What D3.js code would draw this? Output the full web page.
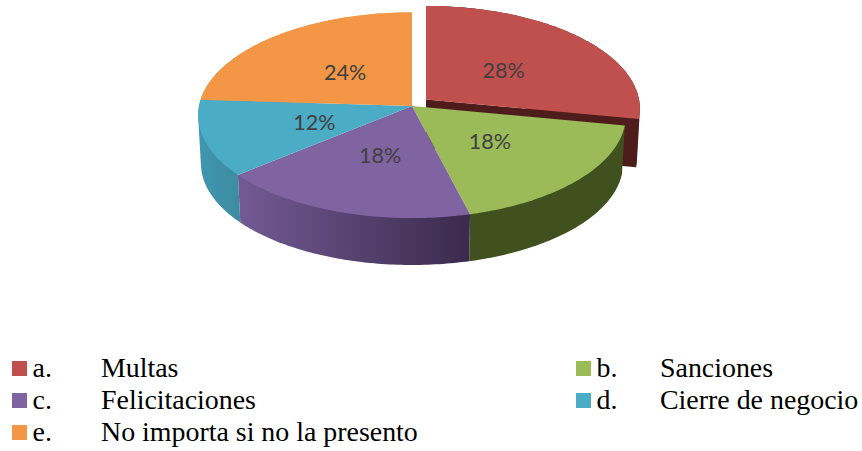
<!DOCTYPE html>
<html>
<head>
<meta charset="utf-8">
<script src="https://cdn.jsdelivr.net/npm/d3@7"></script>
<style>
    html, body { margin: 0; padding: 0; background: #fff; }
    svg { display: block; }
</style>
</head>
<body>
<svg id="chart"></svg>
<script>
'use strict';
const letters = ["a.", "b.", "c.", "d.", "e."];
const categories = ["Multas", "Sanciones", "Felicitaciones", "Cierre de negocio", "No importa si no la presento"];
const values = [28, 18, 18, 12, 24];
const colors = ["#c0504d", "#9bbb59", "#8064a2", "#4bacc6", "#f39645"];
const wallLeft = ["#4f1c1c", "#40501f", "#735a94", "#4097b0", "#f79646"];
const wallRight = ["#4f1c1c", "#40501f", "#3a2a4c", "#3d8ba2", "#f79646"];

const width = 862, height = 451;
const pivotX = 412, pivotY = 106, radiusX = 213, radiusY = 102;
const perspective = 0.09, depth = 48.5, bottomShrink = 0.987;
const explode = { x: 14, y: -6.5 };

const svg = d3.select("#chart").attr("width", width).attr("height", height);

const xScale = d3.scaleLinear().domain([-1, 1]).range([pivotX - radiusX, pivotX + radiusX]);
const yScale = d3.scaleLinear().domain([-1, 1]).range([pivotY + radiusY, pivotY - radiusY]);

// flat circle -> screen, far side of the pie gets squeezed a bit
function project(angle, r, dx, dy) {
    let u = r * Math.sin(angle), v = r * Math.cos(angle);
    let w = 1 + perspective * v;
    return [xScale(u / w) + dx, yScale(v / w) + dy];
}

function rim(a0, a1, r, dx, dy) {
    let n = Math.max(2, Math.ceil((a1 - a0) * 60));
    return d3.range(n + 1).map(i => project(a0 + (a1 - a0) * i / n, r, dx, dy));
}

const slices = d3.pie().sort(null)(values);
const line = d3.line();

const defs = svg.append("defs");
slices.forEach((d, i) => {
    let grad = defs.append("linearGradient").attr("id", "wall" + i);
    grad.append("stop").attr("offset", "0%").attr("stop-color", wallLeft[i]);
    grad.append("stop").attr("offset", "100%").attr("stop-color", wallRight[i]);
});

function offset(i) {
    return i === 0 ? explode : { x: 0, y: 0 };
}

// walls first, the top faces are painted over whatever is hidden.
// back slice (last one) goes first so it never pokes out past the blue wall
const walls = svg.append("g");
[4, 0, 1, 2, 3].forEach(i => {
    let d = slices[i], o = offset(i);
    let top = rim(d.startAngle, d.endAngle, 1, o.x, o.y);
    let bottom = rim(d.startAngle, d.endAngle, bottomShrink, o.x, o.y + depth);
    // hull so the silhouette stays closed where the rim curls back in
    walls.append("path")
        .attr("d", line(d3.polygonHull(top.concat(bottom))) + "Z")
        .attr("fill", "url(#wall" + i + ")");
    if (i === 0) {
        // cut face of the pulled out slice
        let c = project(0, 0, o.x, o.y);
        let e = project(d.endAngle, 1, o.x, o.y);
        let f = project(d.endAngle, bottomShrink, o.x, o.y + depth);
        walls.append("path")
            .attr("d", line([c, e, f, [c[0], c[1] + depth]]) + "Z")
            .attr("fill", wallLeft[0]);
    }
});

const tops = svg.append("g");
slices.forEach((d, i) => {
    let o = offset(i);
    let c = project(0, 0, o.x, o.y);
    tops.append("path")
        .attr("d", line([c].concat(rim(d.startAngle, d.endAngle, 1, o.x, o.y))) + "Z")
        .attr("fill", colors[i]);
});

slices.forEach((d, i) => {
    let o = offset(i);
    let p = project((d.startAngle + d.endAngle) / 2, 0.48, o.x, o.y);
    svg.append("text")
        .attr("x", p[0] + 1)
        .attr("y", p[1] + 1)
        .attr("dy", "0.35em")
        .attr("text-anchor", "middle")
        .style("font-family", "Lato")
        .style("font-size", "21.5px")
        .style("fill", "#404040")
        .text(d.value + "%");
});

// legend, filled row by row in two columns
const colX = d3.scaleOrdinal().domain([0, 1]).range([12, 576]);
const labelX = d3.scaleOrdinal().domain([0, 1]).range([101, 660]);
const rowY = d3.scaleLinear().domain([0, 2]).range([361, 425]);

const legend = svg.append("g")
    .selectAll("g")
    .data(categories)
    .enter()
    .append("g")
    .style("font-family", "Liberation Serif")
    .style("font-size", "27.9px")
    .style("fill", "#000");

legend.append("rect")
    .attr("x", (d, i) => colX(i % 2))
    .attr("y", (d, i) => rowY(Math.floor(i / 2)))
    .attr("width", 15)
    .attr("height", 15)
    .style("fill", (d, i) => colors[i]);

legend.append("text")
    .attr("x", (d, i) => colX(i % 2) + 20.5)
    .attr("y", (d, i) => rowY(Math.floor(i / 2)) + 16)
    .text((d, i) => letters[i]);

legend.append("text")
    .attr("x", (d, i) => labelX(i % 2))
    .attr("y", (d, i) => rowY(Math.floor(i / 2)) + 16)
    .text(d => d);
</script>
</body>
</html>
